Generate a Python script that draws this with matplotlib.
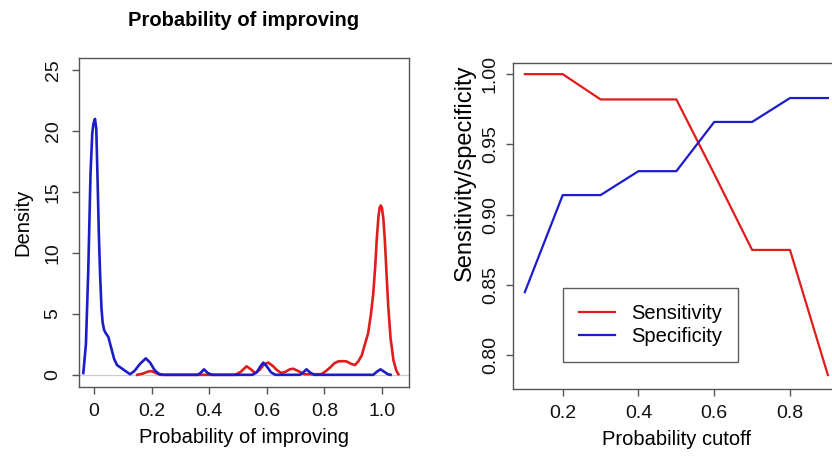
import matplotlib
matplotlib.use("Agg")
import matplotlib.pyplot as plt
import numpy as np

plt.rcParams['font.family'] = ['Liberation Sans', 'DejaVu Sans']

# ---- Left panel: density curves ----
blue_x = [-0.037, -0.028, -0.020, -0.012, -0.006, -0.002, 0.0035, 0.008, 0.012, 0.017,
          0.021, 0.026, 0.030, 0.035, 0.040, 0.050, 0.060, 0.070, 0.080, 0.095,
          0.11, 0.125, 0.14, 0.16, 0.18, 0.195, 0.21, 0.225, 0.24, 0.36,
          0.37, 0.382, 0.395, 0.41, 0.55, 0.565, 0.578, 0.588, 0.60, 0.615,
          0.63, 0.715, 0.727, 0.738, 0.75, 0.765, 0.97, 0.982, 0.995, 1.008,
          1.02, 1.03]
blue_y = [0.15, 2.5, 8.4, 16.5, 19.8, 20.6, 21.0, 20.2, 16.5, 11.5,
          8.4, 5.5, 4.3, 3.7, 3.45, 3.1, 2.2, 1.3, 0.8, 0.55,
          0.3, 0.05, 0.3, 0.9, 1.35, 1.0, 0.4, 0.08, 0.0, 0.0,
          0.15, 0.45, 0.15, 0.0, 0.0, 0.2, 0.7, 1.0, 0.7, 0.2,
          0.0, 0.0, 0.2, 0.45, 0.2, 0.0, 0.0, 0.25, 0.45, 0.25,
          0.05, 0.0]

red_x = [0.15, 0.17, 0.19, 0.20, 0.215, 0.23, 0.49, 0.51, 0.53, 0.545,
         0.559, 0.575, 0.59, 0.605, 0.62, 0.635, 0.65, 0.665, 0.68, 0.692,
         0.71, 0.73, 0.79, 0.805, 0.82, 0.835, 0.848, 0.865, 0.877, 0.893,
         0.906, 0.918, 0.93, 0.942, 0.952, 0.962, 0.97, 0.977, 0.982, 0.988,
         0.992, 0.996, 1.000, 1.005, 1.01, 1.016, 1.022, 1.03, 1.04, 1.05,
         1.057]
red_y = [0.0, 0.1, 0.28, 0.3, 0.15, 0.0, 0.0, 0.25, 0.7, 0.45,
         0.15, 0.4, 0.85, 1.0, 0.75, 0.4, 0.15, 0.25, 0.45, 0.5,
         0.3, 0.05, 0.05, 0.3, 0.6, 0.95, 1.1, 1.12, 1.1, 0.9,
         0.8, 1.1, 1.6, 2.6, 3.4, 5.0, 6.7, 9.0, 11.1, 13.0,
         13.7, 13.9, 13.7, 12.8, 11.1, 8.3, 5.6, 3.0, 1.2, 0.35,
         0.05]

left_xticks = [0, 0.2, 0.4, 0.6, 0.8, 1.0]
left_xticklabels = ["0", "0.2", "0.4", "0.6", "0.8", "1.0"]
left_yticks = [0, 5, 10, 15, 20, 25]

# ---- Right panel: sensitivity / specificity vs cutoff ----
cutoff = [0.1, 0.2, 0.3, 0.4, 0.5, 0.6, 0.7, 0.8, 0.9]
sensitivity = [1.0, 1.0, 0.982, 0.982, 0.982, 0.929, 0.875, 0.875, 0.786]
specificity = [0.845, 0.914, 0.914, 0.931, 0.931, 0.966, 0.966, 0.983, 0.983]
right_xticks = [0.2, 0.4, 0.6, 0.8]
right_yticks = [0.80, 0.85, 0.90, 0.95, 1.00]
right_yticklabels = ["0.80", "0.85", "0.90", "0.95", "1.00"]

RED = '#e01c1c'
BLUE = '#1c1cc8'
SPINE = '#555555'

W, H = 832, 462
fig = plt.figure(figsize=(W / 100, H / 100), dpi=100)

def px_axes(l, t, r, b):
    return fig.add_axes([l / W, (H - b) / H, (r - l) / W, (b - t) / H])

def style(ax):
    for s in ax.spines.values():
        s.set_color(SPINE)
        s.set_linewidth(1.0)
    ax.tick_params(direction='out', length=5, width=1.0, color=SPINE,
                   labelsize=14, labelcolor='#111111')

# Left axes
ax1 = px_axes(79, 58, 409, 387)
style(ax1)
ax1.axhline(0, color='#cccccc', lw=0.9, zorder=1)
ax1.plot(red_x, red_y, color=RED, lw=1.9, zorder=2)
ax1.plot(blue_x, blue_y, color=BLUE, lw=1.9, zorder=3)
ax1.set_xlim(-0.052, 1.094)
ax1.set_ylim(-1.0, 26.0)
ax1.set_xticks(left_xticks)
ax1.set_xticklabels(left_xticklabels)
ax1.set_yticks(left_yticks)
ax1.tick_params(axis='x', pad=6.5)
ax1.tick_params(axis='y', pad=7.5)
for lab in ax1.get_yticklabels():
    lab.set_rotation(90)
    lab.set_va('center')
ax1.set_xlabel("Probability of improving", fontsize=14.5)
ax1.xaxis.set_label_coords(0.5, -0.125)
ax1.set_ylabel("Density", fontsize=14.5)
ax1.yaxis.set_label_coords(-0.142, 0.5)

fig.text(244 / W, 1 - 26 / H, "Probability of improving", ha='center',
         va='baseline', fontsize=14.5, fontweight='bold')

# Right axes (extends past the right border, as in the reference)
ax2 = px_axes(512.7, 63.3, 840, 389.3)
style(ax2)
ax2.plot(cutoff, sensitivity, color=RED, lw=1.6, label="Sensitivity")
ax2.plot(cutoff, specificity, color=BLUE, lw=1.6, label="Specificity")
ax2.set_xlim(0.068, 0.932)
ax2.set_ylim(0.7759, 1.0077)
ax2.set_xticks(right_xticks)
ax2.set_xticklabels([f"{v:.1f}" for v in right_xticks])
ax2.set_yticks(right_yticks)
ax2.set_yticklabels(right_yticklabels)
ax2.tick_params(axis='x', pad=6.5)
ax2.tick_params(axis='y', pad=5)
for lab in ax2.get_yticklabels():
    lab.set_rotation(90)
    lab.set_va('center')
ax2.set_xlabel("Probability cutoff", fontsize=14.5)
ax2.xaxis.set_label_coords(0.5, -0.125)
ax2.set_ylabel("Sensitivity/specificity", fontsize=17)
ax2.yaxis.set_label_coords(-0.113, 0.665)

leg = ax2.legend(loc='lower left', bbox_to_anchor=(0.1528, 0.0847),
                 borderaxespad=0, fancybox=False, fontsize=14.5,
                 handlelength=1.8, handletextpad=0.8, borderpad=0.8,
                 labelspacing=0.17, frameon=True)
leg.get_frame().set_edgecolor('#333333')
leg.get_frame().set_linewidth(1.0)

fig.savefig("out.png", dpi=100)
